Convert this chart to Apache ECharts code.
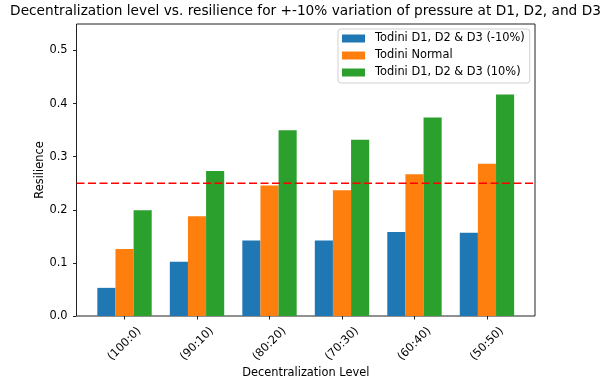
<!DOCTYPE html>
<html>
<head>
<meta charset="utf-8">
<script src="https://cdn.jsdelivr.net/npm/echarts@6/dist/echarts.min.js"></script>
<style>
html,body{margin:0;padding:0;background:#fff;}
#chart{width:611px;height:381px;}
</style>
</head>
<body>
<div id="chart"></div>
<script>
var categories = ['(100:0)', '(90:10)', '(80:20)', '(70:30)', '(60:40)', '(50:50)'];
var seriesNames = ['Todini D1, D2 & D3 (-10%)', 'Todini Normal', 'Todini D1, D2 & D3 (10%)'];
var minus10 = [0.053, 0.102, 0.142, 0.142, 0.158, 0.157];
var normal = [0.126, 0.188, 0.246, 0.237, 0.267, 0.287];
var plus10 = [0.199, 0.273, 0.350, 0.332, 0.374, 0.417];
var threshold = 0.25;
var yTicks = [0.0, 0.1, 0.2, 0.3, 0.4, 0.5];
var yMax = 0.55;

var colors = ['#1f77b4', '#ff7f0e', '#2ca02c'];
var font = 'DejaVu Sans';
var fs = 11.4;

var chart = echarts.init(document.getElementById('chart'), null, {renderer: 'canvas'});

var frameLeft = 76.5, frameRight = 535, frameTop = 24, frameBottom = 316;
// matplotlib-like margins: bars span [-0.375, 5.375] plus 5% padding
var unit = (frameRight - frameLeft) / 6.325;
var inset = (0.6625 - 0.5) * unit;

var barData = [minus10, normal, plus10];
var series = barData.map(function (d, i) {
  return {
    name: seriesNames[i],
    type: 'bar',
    xAxisIndex: 1,
    yAxisIndex: 1,
    data: d,
    barGap: '0%',
    barCategoryGap: '25%',
    itemStyle: {color: colors[i]},
    emphasis: {disabled: true},
    z: 2
  };
});
series.push({
  name: 'threshold',
  type: 'line',
  xAxisIndex: 0,
  yAxisIndex: 0,
  data: [[0, threshold], [1, threshold]],
  symbol: 'none',
  silent: true,
  lineStyle: {color: '#ff0000', width: 1.5, type: [8, 3.5]},
  z: 5
});

chart.setOption({
  animation: false,
  backgroundColor: '#fff',
  title: {
    text: 'Decentralization level vs. resilience for +-10% variation of pressure at D1, D2, and D3',
    left: 'center',
    top: 4,
    padding: 0,
    textStyle: {fontFamily: font, fontSize: 13.7, fontWeight: 'normal', color: '#000'}
  },
  legend: {
    data: seriesNames,
    orient: 'vertical',
    left: 338,
    top: 29,
    padding: [3, 5, 4, 4],
    itemWidth: 23,
    itemHeight: 8,
    itemGap: 4,
    icon: 'rect',
    borderColor: '#d0d0d0',
    borderWidth: 1,
    borderRadius: 3,
    backgroundColor: 'rgba(255,255,255,0.8)',
    selectedMode: false,
    textStyle: {fontFamily: font, fontSize: fs, color: '#000', lineHeight: 13, padding: [0, 0, 0, 5]}
  },
  grid: [
    {left: frameLeft, right: 611 - frameRight, top: frameTop, bottom: 381 - frameBottom,
     outerBoundsMode: 'none', containLabel: false,
     show: true, borderColor: '#222', borderWidth: 1, backgroundColor: 'transparent'},
    {left: frameLeft + inset, right: 611 - frameRight + inset, top: frameTop, bottom: 381 - frameBottom,
     outerBoundsMode: 'none', containLabel: false}
  ],
  xAxis: [
    {type: 'value', gridIndex: 0, min: 0, max: 1, show: false},
    {
      type: 'category', gridIndex: 1, data: categories,
      axisLine: {show: false},
      axisTick: {show: true, alignWithLabel: true, length: 3.5, lineStyle: {color: '#222', width: 1}},
      axisLabel: {
        interval: 0, rotate: 45, margin: 28, align: 'center', verticalAlign: 'middle',
        fontFamily: font, fontSize: fs, color: '#000'
      },
      name: 'Decentralization Level',
      nameLocation: 'middle',
      nameGap: 52,
      nameMoveOverlap: false,
      nameTextStyle: {fontFamily: font, fontSize: fs, color: '#000'}
    }
  ],
  yAxis: [
    {
      type: 'value', gridIndex: 0, min: 0, max: yMax,
      splitLine: {show: false},
      axisLine: {show: false},
      axisTick: {show: true, length: 3.5, customValues: yTicks, lineStyle: {color: '#222', width: 1}},
      axisLabel: {
        customValues: yTicks, margin: 9,
        formatter: function (v) { return v.toFixed(1); },
        fontFamily: font, fontSize: fs, color: '#000'
      },
      name: 'Resilience',
      nameLocation: 'middle',
      nameGap: 30.5,
      nameMoveOverlap: false,
      nameTextStyle: {fontFamily: font, fontSize: fs, color: '#000'}
    },
    {type: 'value', gridIndex: 1, min: 0, max: yMax, show: false, splitLine: {show: false}}
  ],
  series: series
});
</script>
</body>
</html>
